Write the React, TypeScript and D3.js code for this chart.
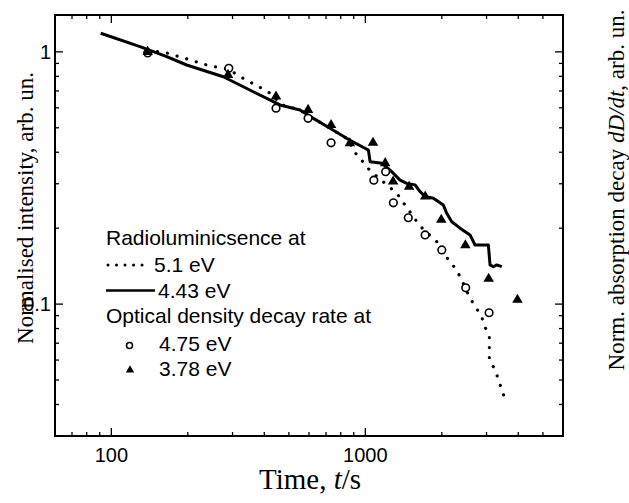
import React from "react";
import * as d3 from "d3";

// 3.78 eV optical density decay rate (filled triangles)
const triT = [139, 288, 445, 595, 733, 869, 1072, 1197, 1286, 1487, 1721, 1990, 2476, 3058, 3970];
const triV = [1.0, 0.81, 0.665, 0.589, 0.513, 0.434, 0.436, 0.362, 0.306, 0.292, 0.267, 0.216, 0.171, 0.126, 0.104];

// 4.75 eV optical density decay rate (open circles)
const circT = [139, 290, 445, 595, 733, 1080, 1202, 1289, 1476, 1719, 2000, 2484, 3070];
const circV = [0.99, 0.861, 0.598, 0.545, 0.436, 0.31, 0.335, 0.252, 0.22, 0.188, 0.164, 0.116, 0.0924];

// Radioluminescence 5.1 eV (dotted)
const dotT = [139, 167, 200, 242, 288, 324, 391, 433, 461, 553, 624, 726, 863, 893, 977, 1043, 1330, 1433, 1641, 1909, 2122, 2281, 2392, 2583, 2736, 2860, 2953, 3077, 3077, 3077, 3221, 3342, 3445, 3575];
const dotV = [1.017, 0.987, 0.935, 0.882, 0.855, 0.793, 0.717, 0.675, 0.62, 0.588, 0.545, 0.498, 0.448, 0.408, 0.367, 0.338, 0.275, 0.247, 0.204, 0.177, 0.15, 0.137, 0.125, 0.1055, 0.0962, 0.09, 0.0816, 0.0743, 0.0672, 0.061, 0.0553, 0.0505, 0.0456, 0.0414];

// Radioluminescence 4.43 eV (solid)
const solT = [90.8, 129.7, 165.2, 198, 276, 362, 461, 553, 624, 726, 863, 997, 1028, 1044, 1161, 1251, 1370, 1455, 1570, 1642, 1719, 1853, 2028, 2091, 2189, 2360, 2583, 2704, 3050, 3097, 3192, 3290, 3444];
const solV = [1.185, 1.049, 0.957, 0.887, 0.797, 0.695, 0.616, 0.588, 0.545, 0.498, 0.448, 0.415, 0.408, 0.367, 0.362, 0.34, 0.31, 0.301, 0.297, 0.279, 0.267, 0.263, 0.247, 0.229, 0.212, 0.2, 0.188, 0.1715, 0.1715, 0.143, 0.1407, 0.143, 0.1407];

const xMajor = [100, 1000];
const xMajorLabels = ["100", "1000"];
const xMinor = [60, 70, 80, 90, 200, 300, 400, 500, 600, 700, 800, 900, 2000, 3000, 4000, 5000, 6000];
const yMajor = [1, 0.1];
const yMajorLabels = ["1", "0.1"];
const yMinor = [0.9, 0.8, 0.7, 0.6, 0.5, 0.4, 0.3, 0.2, 0.09, 0.08, 0.07, 0.06, 0.05, 0.04];

const legendHead1 = "Radioluminicsence at";
const legendHead2 = "Optical density decay rate at";
const legendDot = "5.1 eV";
const legendSolid = "4.43 eV";
const legendCirc = "4.75 eV";
const legendTri = "3.78 eV";

const W = 629, H = 503;
const L = 55, R = 563, T = 15, B = 436;
const SANS = "'Liberation Sans', Arial, Helvetica, sans-serif";
const SERIF = "'Liberation Serif', 'Times New Roman', Times, serif";

export default function App() {
  const x = d3.scaleLog().domain([60, 6000]).range([L, R]);
  const y = d3.scaleLog().domain([0.03, 1.4]).range([B, T]);
  const line = d3.line<[number, number]>().x((d) => x(d[0])).y((d) => y(d[1]));
  const dotPath = line(dotT.map((t, i) => [t, dotV[i]]) as [number, number][]) || "";
  const solPath = line(solT.map((t, i) => [t, solV[i]]) as [number, number][]) || "";
  const triBig = d3.symbol(d3.symbolTriangle, 48)() || "";
  const triSmall = d3.symbol(d3.symbolTriangle, 30)() || "";

  const majLen = 8, minLen = 4;

  return (
    <svg width={W} height={H} style={{ position: "fixed", left: 0, top: 0, background: "#fff" }}>
      <rect x={0} y={0} width={W} height={H} fill="#fff" />
      {/* ticks */}
      <g stroke="#000" strokeWidth={1.3}>
        {xMajor.map((v) => (
          <g key={"xm" + v}>
            <line x1={x(v)} x2={x(v)} y1={B} y2={B - majLen} />
            <line x1={x(v)} x2={x(v)} y1={T} y2={T + majLen} />
          </g>
        ))}
        {xMinor.map((v) => (
          <g key={"xn" + v}>
            <line x1={x(v)} x2={x(v)} y1={B} y2={B - minLen} />
            <line x1={x(v)} x2={x(v)} y1={T} y2={T + minLen} />
          </g>
        ))}
        {yMajor.map((v) => (
          <g key={"ym" + v}>
            <line x1={L} x2={L + majLen} y1={y(v)} y2={y(v)} />
            <line x1={R} x2={R - majLen} y1={y(v)} y2={y(v)} />
          </g>
        ))}
        {yMinor.map((v) => (
          <g key={"yn" + v}>
            <line x1={L} x2={L + minLen} y1={y(v)} y2={y(v)} />
            <line x1={R} x2={R - minLen} y1={y(v)} y2={y(v)} />
          </g>
        ))}
      </g>
      <rect x={L} y={T} width={R - L} height={B - T} fill="none" stroke="#000" strokeWidth={2} />

      {/* tick labels */}
      <g fontFamily={SANS} fontSize={20} fill="#000">
        {xMajor.map((v, i) => (
          <text key={"xl" + v} x={x(v)} y={462} textAnchor="middle">{xMajorLabels[i]}</text>
        ))}
        {yMajor.map((v, i) => (
          <text key={"yl" + v} x={51} y={y(v) + 7} textAnchor="end">{yMajorLabels[i]}</text>
        ))}
      </g>

      {/* axis titles */}
      <text x={310} y={489} textAnchor="middle" fontFamily={SERIF} fontSize={29} fill="#000">
        Time, <tspan fontStyle="italic">t</tspan>/s
      </text>
      <text transform="translate(33,208) rotate(-90)" textAnchor="middle" fontFamily={SERIF} fontSize={23} fill="#000">
        Normalised intensity, arb. un.
      </text>
      <text transform="translate(624,190) rotate(-90)" textAnchor="middle" fontFamily={SERIF} fontSize={23} fill="#000">
        Norm. absorption decay <tspan fontStyle="italic">dD/dt</tspan>, arb. un.
      </text>

      {/* data */}
      <path d={solPath} fill="none" stroke="#000" strokeWidth={3} strokeLinejoin="round" />
      <path d={dotPath} fill="none" stroke="#000" strokeWidth={3.2} strokeLinecap="round" strokeDasharray="0.01 10" />
      {circT.map((t, i) => (
        <circle key={"c" + i} cx={x(t)} cy={y(circV[i])} r={3.8} fill="#fff" stroke="#000" strokeWidth={1.6} />
      ))}
      {triT.map((t, i) => (
        <path key={"t" + i} d={triBig} transform={`translate(${x(t)},${y(triV[i])})`} fill="#000" />
      ))}

      {/* legend */}
      <g fontFamily={SANS} fontSize={21} fill="#000">
        <text x={106} y={245}>{legendHead1}</text>
        <line x1={108} x2={150} y1={265} y2={265} stroke="#000" strokeWidth={3} strokeLinecap="round" strokeDasharray="0.01 8.5" />
        <text x={154} y={272}>{legendDot}</text>
        <line x1={106} x2={155} y1={290.5} y2={290.5} stroke="#000" strokeWidth={2.6} />
        <text x={158} y={298}>{legendSolid}</text>
        <text x={106} y={323}>{legendHead2}</text>
        <circle cx={129.5} cy={345.5} r={3} fill="#fff" stroke="#000" strokeWidth={1.5} />
        <text x={159} y={351}>{legendCirc}</text>
        <path d={triSmall} transform="translate(130,370)" fill="#000" />
        <text x={159} y={376}>{legendTri}</text>
      </g>
    </svg>
  );
}
